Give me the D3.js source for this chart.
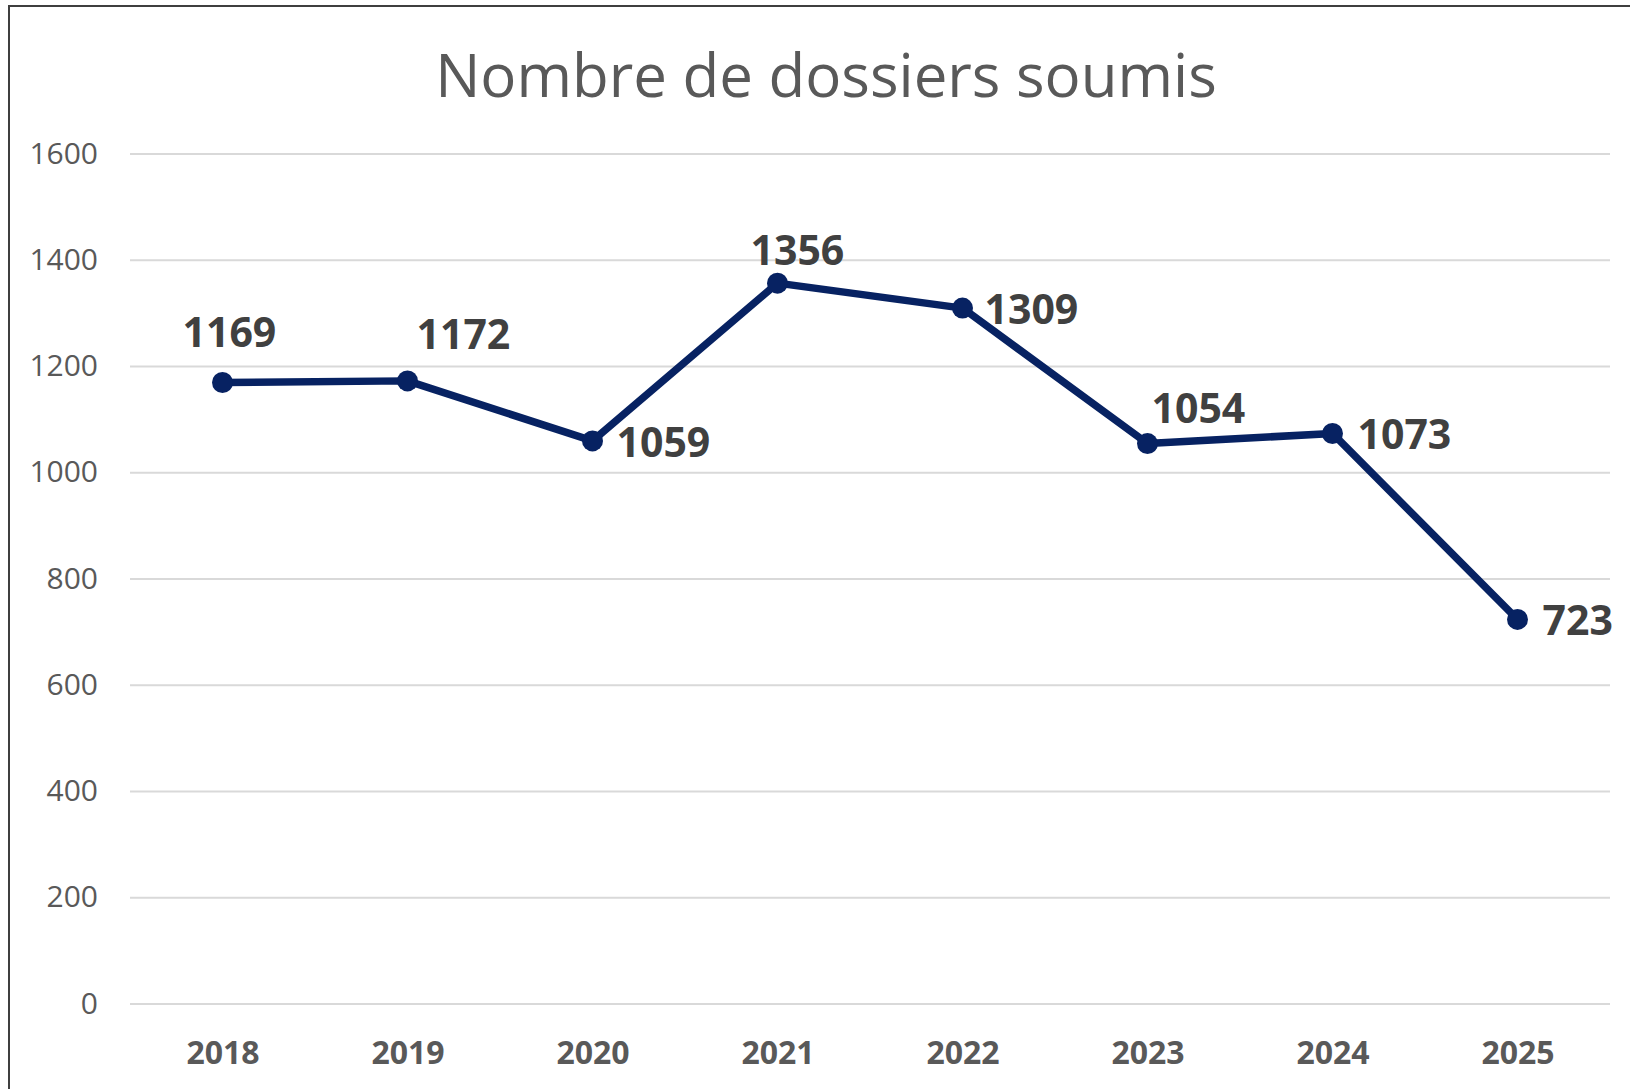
<!DOCTYPE html>
<html lang="fr">
<head>
<meta charset="utf-8">
<title>Nombre de dossiers soumis</title>
<script src="https://cdn.jsdelivr.net/npm/d3@7"></script>
<style>
  html, body { margin: 0; padding: 0; background: #ffffff; }
  svg { display: block; }
</style>
</head>
<body>
<svg id="chart" width="1630" height="1089"></svg>
<script>
// Submitted files per year
const years = ["2018", "2019", "2020", "2021", "2022", "2023", "2024", "2025"];
const dossiers = [1169, 1172, 1059, 1356, 1309, 1054, 1073, 723];
const yTicks = [0, 200, 400, 600, 800, 1000, 1200, 1400, 1600];
const chartTitle = "Nombre de dossiers soumis";

// Nudges for each value label relative to its marker (text start, baseline)
const labelNudge = [
  [-40, -35], [9, -32], [24, 16], [-27, -18],
  [22, 16], [4, -21], [25, 16], [25, 16]
];

const W = 1630, H = 1089;
const plot = { left: 130, right: 1610, top: 153.5, bottom: 1003.5 };
const FONT = "'Open Sans', 'Noto Sans', sans-serif";

const svg = d3.select("#chart");

svg.append("rect").attr("width", W).attr("height", H).attr("fill", "#ffffff");

// chart frame (only left and top edges fall inside the page)
svg.append("path")
  .attr("d", `M9,${H + 5} L9,6 L${W + 5},6`)
  .attr("fill", "none")
  .attr("stroke", "#3f3f3f")
  .attr("stroke-width", 2);

const x = d3.scalePoint()
  .domain(years)
  .range([plot.left, plot.right])
  .padding(0.5);

const y = d3.scaleLinear()
  .domain([0, 1600])
  .range([plot.bottom, plot.top]);

// title
svg.append("text")
  .attr("x", 826)
  .attr("y", 97)
  .attr("text-anchor", "middle")
  .attr("font-family", FONT)
  .attr("font-size", 60)
  .attr("fill", "#595959")
  .text(chartTitle);

// y axis: gridlines and tick labels
const yAxis = d3.axisLeft(y)
  .tickValues(yTicks)
  .tickSize(-(plot.right - plot.left))
  .tickPadding(32)
  .tickFormat(d3.format("d"));

const gy = svg.append("g")
  .attr("transform", `translate(${plot.left},0)`)
  .call(yAxis);
gy.select(".domain").remove();
gy.selectAll(".tick line")
  .attr("stroke", "#d9d9d9")
  .attr("stroke-width", 2);
gy.selectAll(".tick text")
  .attr("font-family", FONT)
  .attr("font-size", 30)
  .attr("fill", "#595959");

// x axis: year labels
const xAxis = d3.axisBottom(x).tickSize(0).tickPadding(38);
const gx = svg.append("g")
  .attr("transform", `translate(0,${plot.bottom})`)
  .call(xAxis);
gx.select(".domain").remove();
gx.selectAll(".tick text")
  .attr("font-family", FONT)
  .attr("font-size", 32)
  .attr("font-weight", 700)
  .attr("fill", "#595959");

// series line
const pts = years.map((yr, i) => ({ year: yr, value: dossiers[i], i }));
const NAVY = "#072262";

svg.append("path")
  .datum(pts)
  .attr("fill", "none")
  .attr("stroke", NAVY)
  .attr("stroke-width", 7.5)
  .attr("stroke-linejoin", "round")
  .attr("d", d3.line().x(d => x(d.year)).y(d => y(d.value)));

svg.append("g")
  .selectAll("circle")
  .data(pts)
  .join("circle")
  .attr("cx", d => x(d.year))
  .attr("cy", d => y(d.value))
  .attr("r", 10.5)
  .attr("fill", NAVY);

// value labels
svg.append("g")
  .selectAll("text")
  .data(pts)
  .join("text")
  .attr("x", d => x(d.year) + labelNudge[d.i][0])
  .attr("y", d => y(d.value) + labelNudge[d.i][1])
  .attr("font-family", FONT)
  .attr("font-size", 41)
  .attr("font-weight", 700)
  .attr("fill", "#404040")
  .text(d => d.value);
</script>
</body>
</html>
